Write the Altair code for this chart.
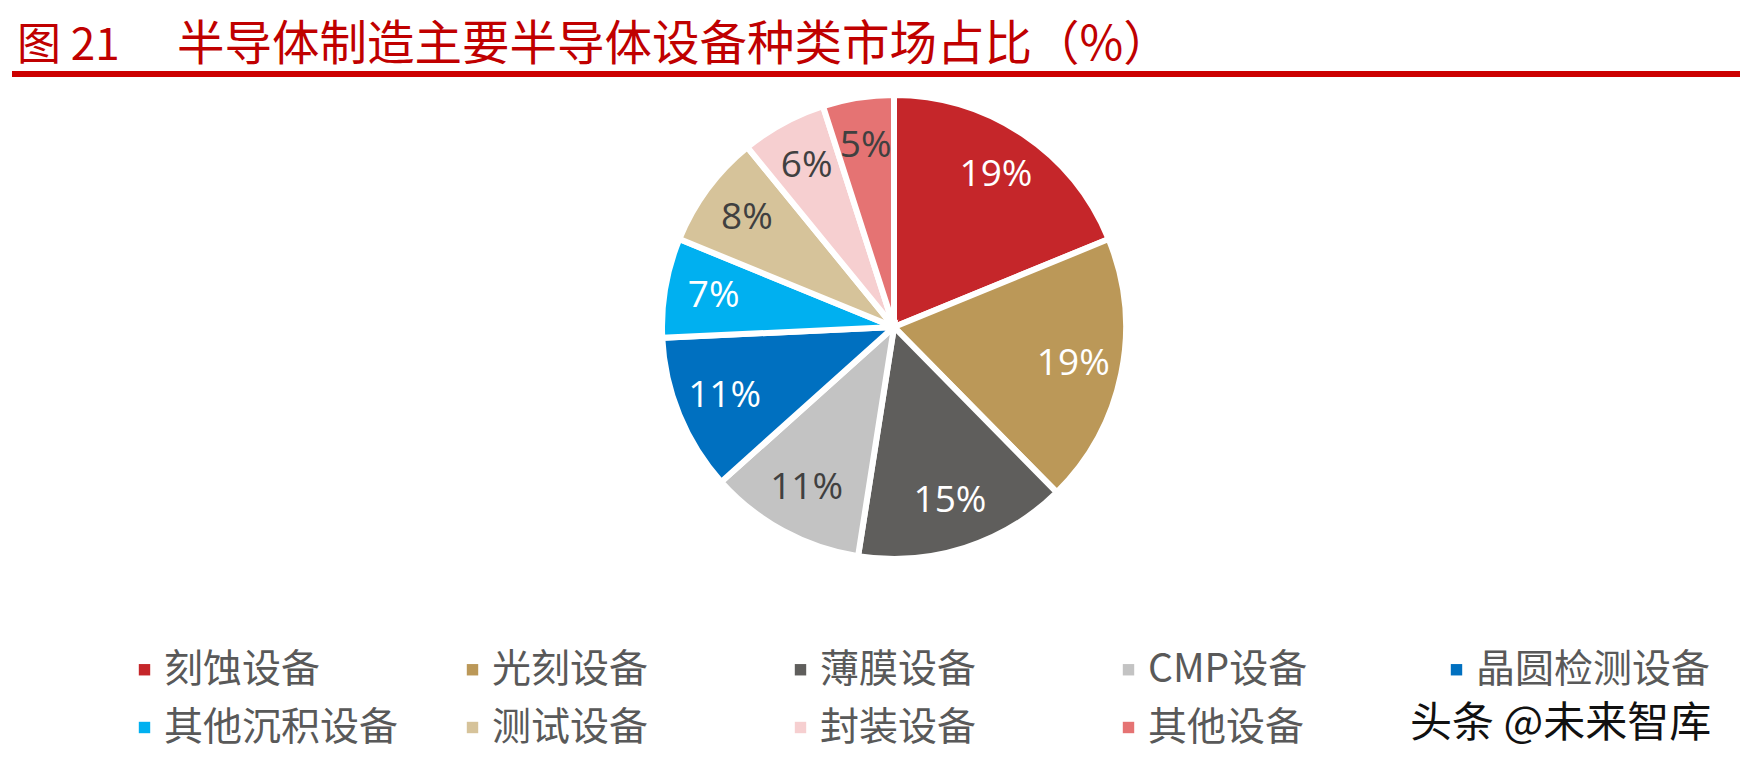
import altair as alt
import pandas as pd

categories = ["刻蚀设备", "光刻设备", "薄膜设备", "CMP设备", "晶圆检测设备",
              "其他沉积设备", "测试设备", "封装设备", "其他设备"]
shares = [19, 19, 15, 11, 11, 7, 8, 6, 5]
colors = ["#C5262A", "#BB9858", "#5F5E5C", "#C3C3C3", "#0070C0",
          "#00B0F0", "#D6C39A", "#F6CFD0", "#E57373"]
label_colors = ["#FFFFFF", "#FFFFFF", "#FFFFFF", "#404040", "#FFFFFF",
                "#FFFFFF", "#404040", "#404040", "#404040"]
title_prefix = "图 21"
title_main = "半导体制造主要半导体设备种类市场占比（%）"
watermark = "头条 @未来智库"

df = pd.DataFrame({
    "cat": categories,
    "share": shares,
    "order": list(range(len(categories))),
    "label": [f"{v}%" for v in shares],
    "lc": label_colors,
})

W, H = 1732, 748
CX, CY, R = 886, 319, 232
FONT = "Noto Sans CJK SC"

base = alt.Chart(df).encode(
    theta=alt.Theta("share:Q", stack=True),
    order=alt.Order("order:Q"),
)

pie = base.mark_arc(outerRadius=R, stroke="white", strokeWidth=6).encode(
    x=alt.value(CX), y=alt.value(CY),
    color=alt.Color(
        "cat:N",
        scale=alt.Scale(domain=categories, range=colors),
        sort=categories,
        legend=alt.Legend(
            title=None, orient="none", legendX=117, legendY=642,
            direction="horizontal", columns=5, gridAlign="all",
            columnPadding=54, rowPadding=18,
            symbolType="square", symbolSize=130, symbolStrokeWidth=0,
            labelFont=FONT, labelFontSize=39, labelColor="#595959",
            labelOffset=0, labelLimit=400,
        ),
    ),
)

labels = base.mark_text(radius=183, font="Open Sans", fontSize=37).encode(
    x=alt.value(CX), y=alt.value(CY),
    text="label:N",
    color=alt.Color("lc:N", scale=None),
)

rule = alt.Chart(pd.DataFrame({"a": [0]})).mark_rule(
    color="#CC0000", strokeWidth=6
).encode(x=alt.value(4), x2=alt.value(W), y=alt.value(66))

title1 = alt.Chart(pd.DataFrame({"t": [title_prefix]})).mark_text(
    align="left", baseline="alphabetic", font=FONT, fontSize=44, color="#C00000"
).encode(x=alt.value(9), y=alt.value(52), text="t:N")
title2 = alt.Chart(pd.DataFrame({"t": [title_main]})).mark_text(
    align="left", baseline="alphabetic", font=FONT, fontSize=47.5, color="#C00000"
).encode(x=alt.value(169), y=alt.value(52), text="t:N")

wm = alt.Chart(pd.DataFrame({"t": [watermark]})).mark_text(
    align="left", baseline="alphabetic", font=FONT, fontSize=42, color="#111111"
).encode(x=alt.value(1402), y=alt.value(729), text="t:N")

chart = alt.layer(pie, labels, rule, title1, title2, wm).properties(
    width=W, height=H, autosize=alt.AutoSizeParams(type="none"), padding=0
).configure_view(stroke=None)

chart.save("out.html", embed_options={"renderer": "svg", "actions": False})
